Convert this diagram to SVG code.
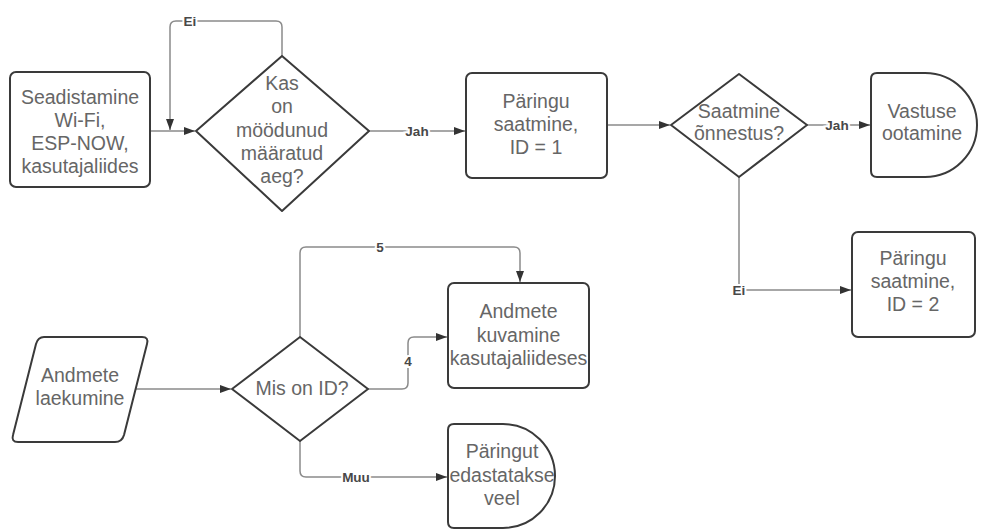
<svg xmlns="http://www.w3.org/2000/svg" width="985" height="529" viewBox="0 0 985 529">
<defs>
<marker id="arr" markerUnits="userSpaceOnUse" markerWidth="12" markerHeight="10" refX="11" refY="5" orient="auto">
<path d="M0,1 L11,5 L0,9 Z" fill="#333"/>
</marker>
</defs>
<style>
.sh{fill:#fff;stroke:#3a3a3a;stroke-width:2;stroke-linejoin:round}
.t{font-family:"Liberation Sans",Arial,sans-serif;font-size:19.5px;fill:#666;text-anchor:middle}
.c{fill:none;stroke:#8a8a8a;stroke-width:1.5}
.lb{font-family:"Liberation Sans",Arial,sans-serif;font-size:13.5px;font-weight:bold;fill:#484848;text-anchor:middle;stroke:#fff;stroke-width:4;paint-order:stroke}
</style>
<rect width="985" height="529" fill="#fff"/>
<g id="connectors">
<path class="c" d="M150,131 H195" marker-end="url(#arr)"/>
<path class="c" d="M282,56 V27 Q282,21 276,21 H176 Q170,21 170,27 V130" marker-end="url(#arr)"/>
<path class="c" d="M369,131 H465" marker-end="url(#arr)"/>
<path class="c" d="M607,125 H670" marker-end="url(#arr)"/>
<path class="c" d="M807,125 H870" marker-end="url(#arr)"/>
<path class="c" d="M739,177 V290 H851" marker-end="url(#arr)"/>
<path class="c" d="M135,389 H231" marker-end="url(#arr)"/>
<path class="c" d="M300,337 V253 Q300,247 306,247 H514 Q520,247 520,253 V282" marker-end="url(#arr)"/>
<path class="c" d="M368,389 H402 Q408,389 408,383 V343 Q408,337 414,337 H447" marker-end="url(#arr)"/>
<path class="c" d="M300,441 V471 Q300,477 306,477 H447" marker-end="url(#arr)"/>
<text class="lb" x="190" y="26">Ei</text>
<text class="lb" x="417" y="136">Jah</text>
<text class="lb" x="837" y="130">Jah</text>
<text class="lb" x="739" y="295">Ei</text>
<text class="lb" x="380" y="252">5</text>
<text class="lb" x="408" y="366">4</text>
<text class="lb" x="356" y="482">Muu</text>
</g>
<g id="n_setup">
<rect class="sh" x="10" y="72" width="140" height="115" rx="6"/>
<text class="t" x="80" y="104">Seadistamine</text>
<text class="t" x="80" y="127">Wi-Fi,</text>
<text class="t" x="80" y="150">ESP-NOW,</text>
<text class="t" x="80" y="173">kasutajaliides</text>
</g>
<g id="n_aeg">
<polygon class="sh" points="196,131 282,56 369,131 282,211"/>
<text class="t" x="282" y="90">Kas</text>
<text class="t" x="282" y="113">on</text>
<text class="t" x="282" y="137">möödunud</text>
<text class="t" x="282" y="160">määratud</text>
<text class="t" x="282" y="183">aeg?</text>
</g>
<g id="n_paring1">
<rect class="sh" x="466" y="73" width="141" height="105" rx="6"/>
<text class="t" x="536" y="108">Päringu</text>
<text class="t" x="536" y="131">saatmine,</text>
<text class="t" x="536" y="154">ID = 1</text>
</g>
<g id="n_onnestus">
<polygon class="sh" points="671,125 739,74 807,125 739,177"/>
<text class="t" x="739" y="118">Saatmine</text>
<text class="t" x="739" y="140">õnnestus?</text>
</g>
<g id="n_vastus">
<path class="sh" d="M877,73 H925 A52,52 0 0 1 925,177 H877 Q871,177 871,171 V79 Q871,73 877,73 Z"/>
<text class="t" x="922" y="118">Vastuse</text>
<text class="t" x="922" y="140">ootamine</text>
</g>
<g id="n_paring2">
<rect class="sh" x="852" y="232" width="123" height="105" rx="6"/>
<text class="t" x="913" y="265">Päringu</text>
<text class="t" x="913" y="288">saatmine,</text>
<text class="t" x="913" y="311">ID = 2</text>
</g>
<g id="n_laekumine">
<path class="sh" d="M44,337 H142 Q149,337 147,344 L124,435 Q122,442 115,442 H18 Q11,442 13,435 L36,344 Q38,337 44,337 Z"/>
<text class="t" x="80" y="382">Andmete</text>
<text class="t" x="80" y="405">laekumine</text>
</g>
<g id="n_id">
<polygon class="sh" points="232,389 300,337 368,389 300,441"/>
<text class="t" x="302" y="395">Mis on ID?</text>
</g>
<g id="n_kuvamine">
<rect class="sh" x="448" y="283" width="141" height="105" rx="6"/>
<text class="t" x="518.5" y="318">Andmete</text>
<text class="t" x="518.5" y="342">kuvamine</text>
<text class="t" x="518.5" y="365">kasutajaliideses</text>
</g>
<g id="n_edastatakse">
<path class="sh" d="M454,424 H503 A52,52 0 0 1 503,528 H454 Q448,528 448,522 V430 Q448,424 454,424 Z"/>
<text class="t" x="502" y="458">Päringut</text>
<text class="t" x="502" y="482">edastatakse</text>
<text class="t" x="502" y="505">veel</text>
</g>
</svg>
